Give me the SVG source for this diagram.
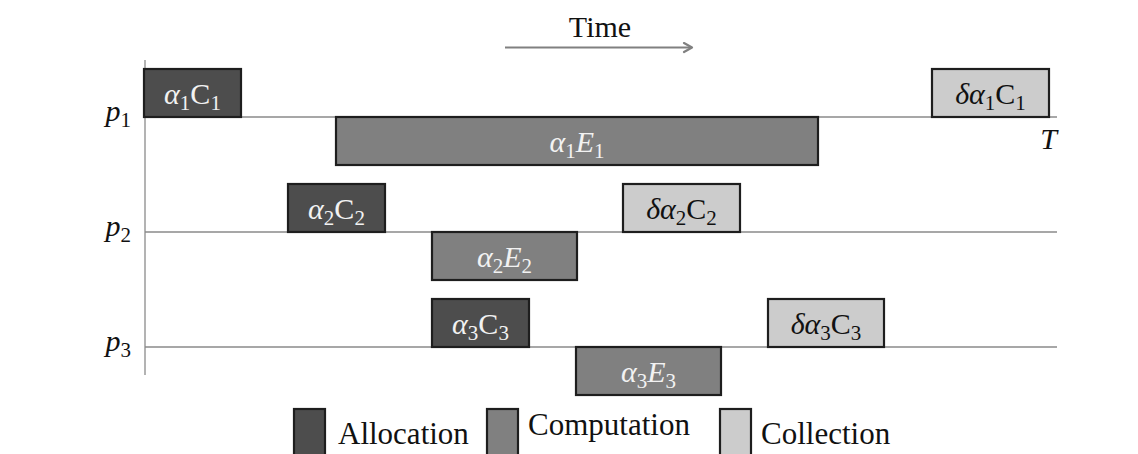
<svg xmlns="http://www.w3.org/2000/svg" width="1138" height="454" viewBox="0 0 1138 454">
<defs>
<style>
.ax{stroke:#8a8a8a;stroke-width:1.3;fill:none}
.box{stroke:#1e1e1e;stroke-width:2.2}
.alloc{fill:#4d4d4d}
.comp{fill:#808080}
.coll{fill:#cccccc}
.t{font-family:"Liberation Serif","DejaVu Serif",serif;font-size:30px;text-anchor:middle}
.lt{fill:#f2f2f2}
.dk{fill:#111111}
.i{font-style:italic}
.s{font-size:21px}
.lbl{font-family:"Liberation Serif","DejaVu Serif",serif;font-size:30px;fill:#111111}
.leg{font-family:"Liberation Serif","DejaVu Serif",serif;font-size:31px;fill:#111111}
</style>
<marker id="arr" viewBox="0 0 12 12" refX="10" refY="6" markerWidth="12" markerHeight="12" markerUnits="userSpaceOnUse" orient="auto">
<path d="M2,1.5 L10,6 L2,10.5" fill="none" stroke="#808080" stroke-width="2.2" stroke-linecap="round" stroke-linejoin="round"/>
</marker>
</defs>
<rect width="1138" height="454" fill="#ffffff"/>

<g id="connectors">
<line class="ax" x1="145" y1="60" x2="145" y2="375"/>
<line class="ax" x1="145" y1="117" x2="1057" y2="117"/>
<line class="ax" x1="145" y1="232" x2="1057" y2="232"/>
<line class="ax" x1="145" y1="347" x2="1057" y2="347"/>
<line x1="505" y1="47.5" x2="692" y2="47.5" stroke="#808080" stroke-width="2.2" marker-end="url(#arr)"/>
</g>

<g id="time-label"><text class="lbl" x="600" y="37" text-anchor="middle">Time</text></g>
<g id="p1-label"><text class="lbl" x="131" y="121" text-anchor="end"><tspan class="i">p</tspan><tspan font-size="21" dy="6">1</tspan></text></g>
<g id="p2-label"><text class="lbl" x="131" y="236" text-anchor="end"><tspan class="i">p</tspan><tspan font-size="21" dy="6">2</tspan></text></g>
<g id="p3-label"><text class="lbl" x="131" y="351" text-anchor="end"><tspan class="i">p</tspan><tspan font-size="21" dy="6">3</tspan></text></g>
<g id="T-label"><text class="lbl i" x="1057" y="149" text-anchor="end">T</text></g>

<g id="a1C1"><rect class="box alloc" x="144" y="69" width="97" height="48"/>
<text class="t lt" x="192.5" y="104"><tspan class="i">α</tspan><tspan class="s" dy="6">1</tspan><tspan dy="-6">C</tspan><tspan class="s" dy="6">1</tspan></text></g>

<g id="a1E1"><rect class="box comp" x="336" y="117" width="482" height="48"/>
<text class="t lt" x="577" y="152"><tspan class="i">α</tspan><tspan class="s" dy="6">1</tspan><tspan class="i" dy="-6">E</tspan><tspan class="s" dy="6">1</tspan></text></g>

<g id="da1C1"><rect class="box coll" x="932" y="69" width="117" height="48"/>
<text class="t dk" x="990.5" y="104"><tspan class="i">δα</tspan><tspan class="s" dy="6">1</tspan><tspan dy="-6">C</tspan><tspan class="s" dy="6">1</tspan></text></g>

<g id="a2C2"><rect class="box alloc" x="288" y="184" width="97" height="48"/>
<text class="t lt" x="336.5" y="219"><tspan class="i">α</tspan><tspan class="s" dy="6">2</tspan><tspan dy="-6">C</tspan><tspan class="s" dy="6">2</tspan></text></g>

<g id="a2E2"><rect class="box comp" x="432" y="232" width="145" height="48"/>
<text class="t lt" x="504.5" y="267"><tspan class="i">α</tspan><tspan class="s" dy="6">2</tspan><tspan class="i" dy="-6">E</tspan><tspan class="s" dy="6">2</tspan></text></g>

<g id="da2C2"><rect class="box coll" x="623" y="184" width="117" height="48"/>
<text class="t dk" x="681.5" y="219"><tspan class="i">δα</tspan><tspan class="s" dy="6">2</tspan><tspan dy="-6">C</tspan><tspan class="s" dy="6">2</tspan></text></g>

<g id="a3C3"><rect class="box alloc" x="432" y="299" width="97" height="48"/>
<text class="t lt" x="480.5" y="334"><tspan class="i">α</tspan><tspan class="s" dy="6">3</tspan><tspan dy="-6">C</tspan><tspan class="s" dy="6">3</tspan></text></g>

<g id="a3E3"><rect class="box comp" x="576" y="347" width="145" height="48"/>
<text class="t lt" x="648.5" y="382"><tspan class="i">α</tspan><tspan class="s" dy="6">3</tspan><tspan class="i" dy="-6">E</tspan><tspan class="s" dy="6">3</tspan></text></g>

<g id="da3C3"><rect class="box coll" x="768" y="299" width="116" height="48"/>
<text class="t dk" x="826" y="334"><tspan class="i">δα</tspan><tspan class="s" dy="6">3</tspan><tspan dy="-6">C</tspan><tspan class="s" dy="6">3</tspan></text></g>

<g id="legend-allocation"><rect class="box alloc" x="294" y="409" width="31" height="50"/>
<text class="leg" x="338" y="444">Allocation</text></g>
<g id="legend-computation"><rect class="box comp" x="487" y="409" width="31" height="50"/>
<text class="leg" x="528" y="435">Computation</text></g>
<g id="legend-collection"><rect class="box coll" x="720" y="409" width="31" height="50"/>
<text class="leg" x="761" y="444">Collection</text></g>
</svg>
